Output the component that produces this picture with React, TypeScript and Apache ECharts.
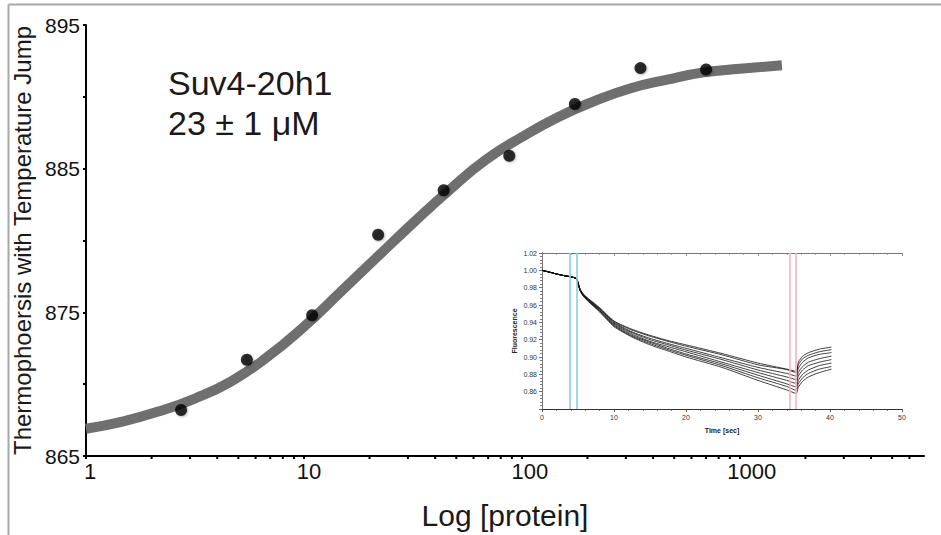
import React, { useEffect, useRef } from "react";
import * as echarts from "echarts";

// ---- main binding curve data ----
const proteinConc = [2.73, 5.47, 10.9, 21.9, 43.75, 87.5, 175, 350, 700];
const thermoSignal = [868.2, 871.7, 874.8, 880.4, 883.5, 885.9, 889.5, 892.0, 891.9];

const fitConc = [1, 1.47, 2.15, 3.16, 4.64, 6.81, 10, 14.7, 21.5, 31.6, 46.4, 68.1, 100, 147, 215, 316, 464, 681, 1000, 1560];
const fitSignal = [866.9, 867.4, 868.1, 869.0, 870.2, 871.9, 874.0, 876.4, 878.8, 881.2, 883.5, 885.6, 887.2, 888.6, 889.7, 890.6, 891.2, 891.7, 891.95, 892.2];

const xMinorTicks = [2, 3, 4, 5, 6, 7, 8, 9, 20, 30, 40, 50, 60, 70, 80, 90, 200, 300, 400, 500, 600, 700, 800, 900, 2000, 3000, 4000, 5000, 6000];

const titleLine1 = "Suv4-20h1";
const titleLine2 = "23 ± 1 μM";

// ---- inset (MST traces) data ----
const insetTime = [0, 1, 2, 3, 4, 4.8, 5.0, 5.3, 5.7, 6.5, 8, 10, 12.5, 15, 17.5, 20, 25, 30, 34, 35.3, 35.6, 36.2, 37, 38.5, 40.2];
const trace1 = [1.0, 0.998, 0.9958, 0.994, 0.9925, 0.9905, 0.986, 0.978, 0.973, 0.967, 0.957, 0.9415, 0.932, 0.925, 0.919, 0.914, 0.904, 0.893, 0.886, 0.8835, 0.894, 0.901, 0.905, 0.909, 0.9115];
const trace2 = [1.0, 0.998, 0.9958, 0.994, 0.9925, 0.9905, 0.986, 0.978, 0.9725, 0.9665, 0.956, 0.941, 0.931, 0.924, 0.918, 0.9125, 0.9025, 0.891, 0.8855, 0.882, 0.891, 0.898, 0.902, 0.906, 0.9085];
const trace3 = [1.0, 0.998, 0.9958, 0.994, 0.9925, 0.9905, 0.9855, 0.9775, 0.972, 0.966, 0.9555, 0.94, 0.929, 0.9215, 0.9155, 0.91, 0.899, 0.888, 0.881, 0.878, 0.887, 0.894, 0.899, 0.903, 0.905];
const trace4 = [1.0, 0.998, 0.9958, 0.994, 0.9925, 0.9905, 0.9855, 0.9775, 0.972, 0.9655, 0.955, 0.939, 0.928, 0.92, 0.914, 0.908, 0.897, 0.885, 0.877, 0.874, 0.882, 0.889, 0.894, 0.898, 0.901];
const trace5 = [1.0, 0.998, 0.9958, 0.994, 0.9925, 0.9905, 0.985, 0.977, 0.9715, 0.965, 0.954, 0.938, 0.9265, 0.918, 0.912, 0.906, 0.894, 0.882, 0.873, 0.8695, 0.878, 0.885, 0.89, 0.894, 0.897];
const trace6 = [1.0, 0.998, 0.9958, 0.994, 0.9925, 0.9905, 0.985, 0.977, 0.9715, 0.9645, 0.9535, 0.937, 0.925, 0.917, 0.91, 0.9035, 0.892, 0.879, 0.869, 0.8655, 0.873, 0.88, 0.885, 0.89, 0.893];
const trace7 = [1.0, 0.998, 0.9958, 0.994, 0.9925, 0.9905, 0.9845, 0.9765, 0.971, 0.964, 0.953, 0.936, 0.924, 0.9155, 0.9085, 0.902, 0.89, 0.876, 0.866, 0.8615, 0.869, 0.876, 0.881, 0.886, 0.889];
const trace8 = [1.0, 0.998, 0.9958, 0.994, 0.9925, 0.9905, 0.9845, 0.9765, 0.9705, 0.9635, 0.952, 0.935, 0.923, 0.914, 0.907, 0.9, 0.888, 0.873, 0.862, 0.858, 0.865, 0.872, 0.877, 0.882, 0.886];
const traces = [trace1, trace2, trace3, trace4, trace5, trace6, trace7, trace8];

const blueMarks = [3.85, 4.8];
const pinkMarks = [34.35, 35.3];

const FONT = "'Liberation Sans', Arial, Helvetica, sans-serif";

const xLabelRich: Record<string, string> = { "1": "a", "10": "b", "100": "c", "1000": "d" };

export default function App() {
  const ref = useRef<HTMLDivElement>(null);
  useEffect(() => {
    if (!ref.current) return;
    const chart = echarts.init(ref.current, undefined, { renderer: "svg" });

    const traceSeries = traces.map((tr, i) => ({
      type: "line",
      xAxisIndex: 1,
      yAxisIndex: 1,
      data: insetTime.map((t, k) => [t, tr[k]]),
      showSymbol: false,
      smooth: 0.2,
      lineStyle: { color: "#111", width: 0.8 },
      silent: true,
      z: 3,
      markLine:
        i === 0
          ? {
              silent: true,
              symbol: "none",
              label: { show: false },
              animation: false,
              data: [
                ...blueMarks.map((v) => ({ xAxis: v, lineStyle: { color: "#8ccde6", width: 1.6, type: "solid" } })),
                ...pinkMarks.map((v) => ({ xAxis: v, lineStyle: { color: "#f5b3c0", width: 1.6, type: "solid" } })),
              ],
            }
          : undefined,
    }));

    const option: any = {
      animation: false,
      backgroundColor: "#fff",
      textStyle: { fontFamily: FONT },
      grid: [
        { left: 86, right: 17, top: 25, bottom: 77 },
        { left: 542, top: 253, width: 360, height: 156 },
      ],
      xAxis: [
        {
          type: "log",
          gridIndex: 0,
          logBase: 10,
          min: 1,
          max: 7000,
          name: "Log [protein]",
          nameLocation: "middle",
          nameGap: 44,
          nameTextStyle: { fontSize: 30, color: "#1a1a1a", fontFamily: FONT },
          axisLine: { lineStyle: { color: "#000", width: 2 } },
          axisTick: { length: 3, lineStyle: { color: "#000", width: 2 } },
          splitLine: { show: false },
          axisLabel: {
            margin: 4,
            fontSize: 22,
            color: "#111",
            fontFamily: FONT,
            showMaxLabel: false,
            formatter: (v: number) => {
              const s = String(Math.round(v));
              const k = xLabelRich[s];
              return k ? `{${k}|${s}}` : "";
            },
            rich: {
              a: { fontSize: 22, color: "#111", fontFamily: FONT, padding: [0, 0, 0, 8] },
              b: { fontSize: 22, color: "#111", fontFamily: FONT, padding: [0, 0, 0, 10] },
              c: { fontSize: 22, color: "#111", fontFamily: FONT, padding: [0, 0, 0, 16] },
              d: { fontSize: 22, color: "#111", fontFamily: FONT, padding: [0, 0, 0, 24] },
            },
          },
        },
        {
          type: "value",
          gridIndex: 1,
          min: 0,
          max: 50,
          interval: 10,
          name: "Time [sec]",
          nameLocation: "middle",
          nameGap: 18,
          nameTextStyle: { fontSize: 7, fontWeight: "bold", color: "#222", fontFamily: FONT },
          axisLine: { lineStyle: { color: "#333", width: 1 } },
          axisTick: { length: 3, lineStyle: { color: "#333", width: 0.8 } },
          minorTick: { show: true, splitNumber: 5, length: 2, lineStyle: { color: "#333", width: 0.6 } },
          splitLine: { show: false },
          axisLabel: { fontSize: 7, color: "#333", margin: 5, fontFamily: FONT },
        },
        {
          type: "value",
          gridIndex: 1,
          position: "top",
          min: 0,
          max: 50,
          interval: 10,
          axisLine: { lineStyle: { color: "#777", width: 1 } },
          axisTick: { inside: true, length: 3, lineStyle: { color: "#777", width: 0.8 } },
          minorTick: { show: true, splitNumber: 5, length: 2, lineStyle: { color: "#777", width: 0.6 } },
          splitLine: { show: false },
          axisLabel: { show: false },
        },
      ],
      yAxis: [
        {
          type: "value",
          gridIndex: 0,
          min: 865,
          max: 895,
          interval: 10,
          name: "Thermophoersis with Temperature Jump",
          nameLocation: "middle",
          nameRotate: 90,
          nameGap: 50,
          nameTextStyle: { fontSize: 24, color: "#1a1a1a", fontFamily: FONT },
          axisLine: { show: true, lineStyle: { color: "#000", width: 2 } },
          axisTick: { show: true, length: 3, lineStyle: { color: "#000", width: 2 } },
          minorTick: { show: true, splitNumber: 2, length: 3, lineStyle: { color: "#000", width: 2 } },
          splitLine: { show: false },
          axisLabel: { fontSize: 21, color: "#111", margin: 6, fontFamily: FONT },
        },
        {
          type: "value",
          gridIndex: 1,
          min: 0.84,
          max: 1.02,
          interval: 0.02,
          name: "Fluorescence",
          nameLocation: "middle",
          nameRotate: 90,
          nameGap: 24,
          nameTextStyle: { fontSize: 7, fontWeight: "bold", color: "#222", fontFamily: FONT },
          axisLine: { show: true, lineStyle: { color: "#333", width: 1 } },
          axisTick: { show: true, length: 3, lineStyle: { color: "#333", width: 0.8 } },
          minorTick: { show: true, splitNumber: 5, length: 2, lineStyle: { color: "#333", width: 0.6 } },
          splitLine: { show: false },
          axisLabel: {
            fontSize: 7,
            color: "#333",
            margin: 5,
            fontFamily: FONT,
            formatter: (v: number) => (v < 0.85 ? "" : v.toFixed(2)),
          },
        },
        {
          type: "value",
          gridIndex: 1,
          position: "right",
          min: 0.84,
          max: 1.02,
          interval: 0.02,
          axisLine: { show: true, lineStyle: { color: "#777", width: 1 } },
          axisTick: { show: true, inside: true, length: 3, lineStyle: { color: "#777", width: 0.8 } },
          minorTick: { show: true, splitNumber: 5, length: 2, lineStyle: { color: "#777", width: 0.6 } },
          splitLine: { show: false },
          axisLabel: { show: false },
        },
      ],
      graphic: [
        {
          type: "line",
          shape: { x1: 8.5, y1: 4.5, x2: 941, y2: 4.5 },
          style: { stroke: "#a8a8a8", lineWidth: 2 },
          silent: true,
        },
        {
          type: "line",
          shape: { x1: 8.5, y1: 4.5, x2: 8.5, y2: 535 },
          style: { stroke: "#a8a8a8", lineWidth: 2 },
          silent: true,
        },
        {
          type: "text",
          left: 168,
          top: 66,
          style: { text: titleLine1, fontSize: 34, fill: "#1a1a1a", fontFamily: FONT },
          silent: true,
        },
        {
          type: "text",
          left: 168,
          top: 106,
          style: { text: titleLine2, fontSize: 34, fill: "#1a1a1a", fontFamily: FONT },
          silent: true,
        },
      ],
      series: [
        {
          type: "line",
          xAxisIndex: 0,
          yAxisIndex: 0,
          data: fitConc.map((c, i) => [c, fitSignal[i]]),
          showSymbol: false,
          smooth: 0.5,
          lineStyle: { color: "#6f6f6f", width: 10 },
          silent: true,
          z: 2,
        },
        {
          type: "scatter",
          xAxisIndex: 0,
          yAxisIndex: 0,
          data: proteinConc.map((c, i) => [c, thermoSignal[i]]),
          symbol: "circle",
          symbolSize: 12,
          itemStyle: { color: "#000", shadowBlur: 2, shadowColor: "rgba(0,0,0,0.35)", shadowOffsetX: 1, shadowOffsetY: 1 },
          silent: true,
          z: 4,
        },
        {
          type: "custom",
          xAxisIndex: 0,
          yAxisIndex: 0,
          clip: false,
          silent: true,
          data: xMinorTicks.map((v) => [v, 865]),
          renderItem: (_params: any, api: any) => {
            const p = api.coord([api.value(0), api.value(1)]);
            return {
              type: "line",
              shape: { x1: p[0], y1: p[1], x2: p[0], y2: p[1] + 3 },
              style: { stroke: "#000", lineWidth: 2 },
            };
          },
          z: 5,
        },
        ...traceSeries,
      ],
    };

    chart.setOption(option);
    return () => chart.dispose();
  }, []);

  return (
    <div
      ref={ref}
      style={{ position: "fixed", left: 0, top: 0, width: 941, height: 535 }}
    />
  );
}
